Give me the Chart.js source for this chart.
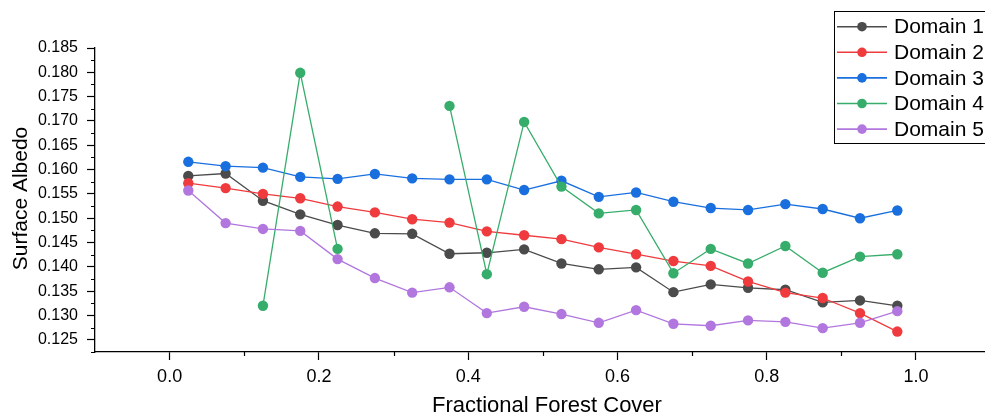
<!DOCTYPE html>
<html>
<head>
<meta charset="utf-8">
<title>Surface Albedo vs Fractional Forest Cover</title>
<script src="https://cdn.jsdelivr.net/npm/chart.js@4/dist/chart.umd.min.js"></script>
<style>
  html, body { margin: 0; padding: 0; background: #fff; overflow: hidden; }
  #wrap { width: 985px; height: 418px; overflow: hidden; position: relative; }
  canvas { display: block; }
</style>
</head>
<body>
<div id="wrap"><canvas id="albedo" width="1000" height="418"></canvas></div>
<script>
// Bin centres of fractional forest cover
const forestCover = [0.025, 0.075, 0.125, 0.175, 0.225, 0.275, 0.325, 0.375, 0.425, 0.475,
                     0.525, 0.575, 0.625, 0.675, 0.725, 0.775, 0.825, 0.875, 0.925, 0.975];

// Mean surface albedo per bin, one array per domain (null = no data in that bin)
const domain1 = [0.1587, 0.1592, 0.1536, 0.1508, 0.1486, 0.1469, 0.1468, 0.1427, 0.1429, 0.1436,
                 0.1407, 0.1395, 0.1399, 0.1348, 0.1364, 0.1357, 0.1353, 0.1327, 0.1331, 0.1320];
const domain2 = [0.1572, 0.1562, 0.1550, 0.1541, 0.1524, 0.1512, 0.1498, 0.1491, 0.1473, 0.1465,
                 0.1457, 0.1440, 0.1426, 0.1412, 0.1402, 0.1370, 0.1347, 0.1336, 0.1305, 0.1267];
const domain3 = [0.1616, 0.1607, 0.1604, 0.1585, 0.1581, 0.1591, 0.1582, 0.1580, 0.1580, 0.1558,
                 0.1577, 0.1544, 0.1553, 0.1534, 0.1521, 0.1517, 0.1529, 0.1519, 0.1500, 0.1516];
const domain4 = [null, null, 0.1320, 0.1799, 0.1437, null, null, 0.1731, 0.1385, 0.1698,
                 0.1565, 0.1510, 0.1517, 0.1387, 0.1437, 0.1407, 0.1443, 0.1388, 0.1421, 0.1426];
const domain5 = [0.1557, 0.1490, 0.1478, 0.1474, 0.1416, 0.1377, 0.1347, 0.1358, 0.1305, 0.1318,
                 0.1303, 0.1285, 0.1311, 0.1283, 0.1279, 0.1290, 0.1287, 0.1274, 0.1285, 0.1309];

const seriesNames = ['Domain 1', 'Domain 2', 'Domain 3', 'Domain 4', 'Domain 5'];
const seriesValues = [domain1, domain2, domain3, domain4, domain5];
const seriesColors = ['#4b4b4b', '#ef3b3e', '#1a6fdf', '#37ad6b', '#b177de'];

// Axis ticks
const xTickValues = [0.0, 0.2, 0.4, 0.6, 0.8, 1.0];
const xMinorTicks = [0.1, 0.3, 0.5, 0.7, 0.9];
const yTickValues = [0.125, 0.130, 0.135, 0.140, 0.145, 0.150, 0.155, 0.160, 0.165, 0.170, 0.175, 0.180, 0.185];
const yMinorTicks = [0.1225, 0.1275, 0.1325, 0.1375, 0.1425, 0.1475, 0.1525, 0.1575, 0.1625, 0.1675, 0.1725, 0.1775, 0.1825];

const xTitle = 'Fractional Forest Cover';
const yTitle = 'Surface Albedo';

const FONT = 'Arial, "Liberation Sans", Helvetica, sans-serif';

const datasets = seriesNames.map((name, i) => ({
  label: name,
  data: forestCover.map((x, j) => ({ x: x, y: seriesValues[i][j] })),
  borderColor: seriesColors[i],
  backgroundColor: seriesColors[i],
  pointBackgroundColor: seriesColors[i],
  pointBorderColor: seriesColors[i],
  pointBorderWidth: 0,
  pointRadius: 5.2,
  borderWidth: 1.3,
  tension: 0,
  spanGaps: false,
  order: seriesNames.length - i
}));

// Minor ticks, axis titles and the boxed legend
const decorations = {
  id: 'decorations',
  afterDraw(chart) {
    const ctx = chart.ctx;
    const xs = chart.scales.x, ys = chart.scales.y;
    const area = chart.chartArea;
    ctx.save();
    ctx.strokeStyle = '#000';
    ctx.lineWidth = 1.2;
    ctx.beginPath();
    xMinorTicks.forEach(v => {
      const px = Math.round(xs.getPixelForValue(v)) + 0.5;
      ctx.moveTo(px, area.bottom);
      ctx.lineTo(px, area.bottom + 4);
    });
    yMinorTicks.forEach(v => {
      const py = Math.round(ys.getPixelForValue(v)) + 0.5;
      ctx.moveTo(area.left, py);
      ctx.lineTo(area.left - 4, py);
    });
    ctx.stroke();

    // axis titles
    ctx.fillStyle = '#000';
    ctx.font = '22px ' + FONT;
    ctx.textAlign = 'center';
    ctx.textBaseline = 'alphabetic';
    ctx.fillText(xTitle, 547, 411.5);

    ctx.save();
    ctx.translate(26.5, 198.5);
    ctx.rotate(-Math.PI / 2);
    ctx.font = '21px ' + FONT;
    ctx.fillText(yTitle, 0, 0);
    ctx.restore();

    // legend
    const bx = 834.5, by = 11.5, bw = 170, bh = 132;
    ctx.fillStyle = '#fff';
    ctx.fillRect(bx, by, bw, bh);
    ctx.strokeStyle = '#000';
    ctx.lineWidth = 1;
    ctx.strokeRect(bx, by, bw, bh);
    ctx.font = '21px ' + FONT;
    ctx.textAlign = 'left';
    ctx.textBaseline = 'middle';
    chart.data.datasets.forEach((ds, i) => {
      const cy = 26.7 + i * 25.6;
      ctx.strokeStyle = ds.borderColor;
      ctx.lineWidth = 1.6;
      ctx.beginPath();
      ctx.moveTo(837, cy);
      ctx.lineTo(887, cy);
      ctx.stroke();
      ctx.fillStyle = ds.borderColor;
      ctx.beginPath();
      ctx.arc(862, cy, 4.8, 0, Math.PI * 2);
      ctx.fill();
      ctx.fillStyle = '#000';
      ctx.fillText(ds.label, 894, cy + 1);
    });
    ctx.restore();
  }
};

new Chart(document.getElementById('albedo'), {
  type: 'line',
  data: { datasets: datasets },
  options: {
    responsive: false,
    devicePixelRatio: 1,
    animation: false,
    events: [],
    layout: { padding: { top: 48, right: 9.4, left: 0, bottom: 0 } },
    plugins: {
      legend: { display: false },
      tooltip: { enabled: false },
      title: { display: false }
    },
    scales: {
      x: {
        type: 'linear',
        min: -0.1,
        max: 1.1,
        afterBuildTicks: s => { s.ticks = xTickValues.map(v => ({ value: v })); },
        afterFit: s => { s.height = 66; },
        border: { display: true, color: '#000', width: 1.3 },
        grid: { drawOnChartArea: false, drawTicks: true, tickLength: 8, tickColor: '#000', tickWidth: 1.2 },
        ticks: {
          color: '#000',
          padding: 6,
          maxRotation: 0,
          autoSkip: false,
          font: { family: FONT, size: 18 },
          callback: v => Number(v).toFixed(1)
        }
      },
      y: {
        type: 'linear',
        min: 0.1225,
        max: 0.185,
        afterBuildTicks: s => { s.ticks = yTickValues.map(v => ({ value: v })); },
        afterFit: s => { s.width = 95; },
        border: { display: true, color: '#000', width: 1.3 },
        grid: { drawOnChartArea: false, drawTicks: true, tickLength: 8, tickColor: '#000', tickWidth: 1.2 },
        ticks: {
          color: '#000',
          padding: 9,
          autoSkip: false,
          font: { family: FONT, size: 16 },
          callback: v => Number(v).toFixed(3)
        }
      }
    }
  },
  plugins: [decorations]
});
</script>
</body>
</html>
